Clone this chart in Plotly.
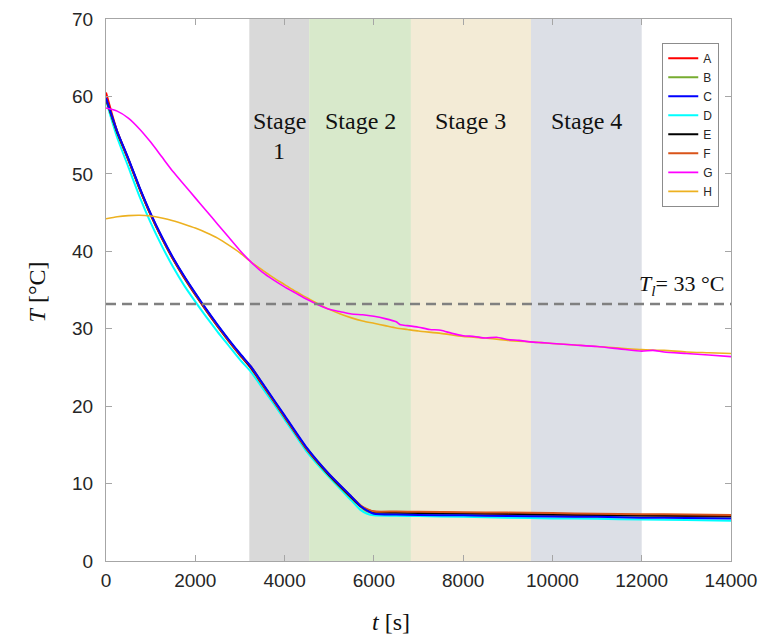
import plotly.graph_objects as go

# ---------------- data ----------------
series_names = ["A", "B", "C", "D", "E", "F", "G", "H"]
series_colors = ["#ff0000", "#77ac30", "#0000ff", "#00ffff", "#000000", "#d95319", "#ff00ff", "#edb120"]

# lower group (A-F) time grid [s]
t_low = [0, 125, 250, 500, 750, 1000, 1250, 1500, 1750, 2000, 2250, 2500, 2750, 3000, 3250, 3500,
         4000, 4500, 5000, 5500, 5700, 5850, 6000, 6500, 7000, 8000, 9000, 10000, 11000, 12000,
         13000, 14000]

T_A = [60.5, 57.9, 55.5, 51.8, 48.1, 44.7, 41.7, 39.0, 36.6, 34.4, 32.3, 30.3, 28.4, 26.6, 24.9, 22.8,
       18.6, 14.4, 11.1, 8.2, 7.1, 6.6, 6.4, 6.3, 6.3, 6.2, 6.1, 6.0, 5.95, 5.9,
       5.85, 5.8]
T_B = [59.6, 57.4, 55.3, 51.8, 48.1, 44.7, 41.7, 39.0, 36.6, 34.4, 32.3, 30.3, 28.4, 26.6, 24.9, 22.8,
       18.6, 14.4, 11.0, 8.1, 7.0, 6.4, 6.2, 6.1, 6.05, 5.95, 5.85, 5.8, 5.75, 5.7,
       5.65, 5.6]
T_C = [59.8, 57.6, 55.5, 52.0, 48.3, 44.9, 41.9, 39.2, 36.8, 34.6, 32.5, 30.5, 28.6, 26.8, 25.1, 23.0,
       18.8, 14.6, 11.2, 8.3, 7.1, 6.5, 6.1, 6.0, 5.95, 5.9, 5.8, 5.75, 5.7, 5.6,
       5.55, 5.5]
T_D = [59.5, 57.0, 54.7, 50.9, 47.1, 43.7, 40.7, 38.0, 35.6, 33.5, 31.5, 29.6, 27.8, 26.0, 24.4, 22.4,
       18.3, 14.1, 10.8, 7.8, 6.6, 6.1, 5.9, 5.85, 5.8, 5.7, 5.6, 5.5, 5.45, 5.35,
       5.3, 5.2]
T_E = [59.7, 57.5, 55.4, 51.9, 48.2, 44.8, 41.8, 39.1, 36.7, 34.5, 32.4, 30.4, 28.5, 26.7, 25.0, 22.9,
       18.7, 14.5, 11.1, 8.2, 7.1, 6.6, 6.3, 6.25, 6.2, 6.15, 6.1, 6.0, 5.95, 5.9,
       5.85, 5.85]
T_F = [59.8, 57.6, 55.5, 51.9, 48.2, 44.8, 41.8, 39.1, 36.7, 34.5, 32.4, 30.4, 28.5, 26.7, 25.1, 22.9,
       18.7, 14.5, 11.2, 8.3, 7.2, 6.7, 6.4, 6.4, 6.35, 6.3, 6.25, 6.2, 6.1, 6.05,
       6.0, 5.95]

# G (magenta)
t_G = [0, 250, 500, 750, 1000, 1250, 1500, 1750, 2000, 2250, 2500, 2750, 3000, 3250, 3500, 3750,
       4000, 4250, 4500, 4750, 5000, 5250, 5500, 5750, 6000, 6250, 6500, 6600, 6750, 7000, 7250,
       7500, 7750, 8000, 8250, 8500, 8750, 9000, 9250, 9500, 9750, 10000, 10500, 11000, 11500,
       12000, 12250, 12500, 13000, 13500, 14000]
T_G = [58.5, 58.1, 57.2, 55.8, 54.1, 52.2, 50.3, 48.6, 46.9, 45.2, 43.5, 41.8, 40.1, 38.6, 37.3, 36.3,
       35.4, 34.6, 33.8, 33.1, 32.5, 32.2, 31.9, 31.8, 31.6, 31.3, 30.9, 30.5, 30.4, 30.2, 29.9,
       29.8, 29.4, 29.1, 29.0, 28.8, 28.9, 28.6, 28.5, 28.3, 28.2, 28.1, 27.9, 27.7, 27.4,
       27.1, 27.2, 27.0, 26.8, 26.6, 26.4]

# H (orange)
t_H = [0, 250, 500, 750, 1000, 1250, 1500, 1750, 2000, 2250, 2500, 2750, 3000, 3250, 3500, 3750,
       4000, 4250, 4500, 4750, 5000, 5250, 5500, 5750, 6000, 6250, 6500, 6750, 7000, 7500, 8000,
       8500, 9000, 9500, 10000, 10500, 11000, 11500, 12000, 12500, 13000, 13500, 14000]
T_H = [44.2, 44.45, 44.6, 44.65, 44.55, 44.3, 43.95, 43.5, 43.0, 42.4, 41.7, 40.8, 39.8, 38.6, 37.6, 36.6,
       35.7, 34.8, 34.0, 33.2, 32.5, 31.9, 31.4, 31.0, 30.7, 30.4, 30.1, 29.9, 29.7, 29.4, 29.0,
       28.8, 28.5, 28.3, 28.1, 27.9, 27.7, 27.5, 27.3, 27.2, 27.0, 26.9, 26.8]

# stages
stage_edges = [3210, 4550, 6830, 9520, 12000]
stage_colors = ["#d9d9d9", "#d8e9cb", "#f3ebd6", "#dcdfe6"]
stage_labels = [["Stage", "1"], ["Stage 2"], ["Stage 3"], ["Stage 4"]]

T_liquidus = 33.2
T_liquidus_label = "<i>T</i><sub><i>l</i></sub>= 33 °C"

x_ticks = [0, 2000, 4000, 6000, 8000, 10000, 12000, 14000]
x_ticktext = ["0", "2000", "4000", "6000", "8000", "10000", "12000", "14000"]
y_ticks = [0, 10, 20, 30, 40, 50, 60, 70]

# ---------------- figure ----------------
fig = go.Figure()

series_x = [t_low] * 6 + [t_G, t_H]
series_y = [T_A, T_B, T_C, T_D, T_E, T_F, T_G, T_H]
widths = [2, 2, 2, 2, 2, 2, 1.6, 1.6]

traces = []
for i in range(8):
    traces.append(go.Scatter(
        x=series_x[i], y=series_y[i], mode="lines", name=series_names[i],
        line=dict(color=series_colors[i], width=widths[i], shape="spline", smoothing=0.6),
        legendrank=i + 1,
    ))
draw_order = [3, 1, 0, 4, 5, 2, 7, 6]
for i in draw_order:
    fig.add_trace(traces[i])

serif = "Liberation Serif, Times New Roman, serif"
sans = "Liberation Sans, Arial, sans-serif"
txt_font = dict(family=serif, size=24, color="#111111")

for k in range(4):
    fig.add_shape(type="rect", xref="x", yref="paper",
                  x0=stage_edges[k], x1=stage_edges[k + 1], y0=0, y1=1,
                  fillcolor=stage_colors[k], line=dict(width=0), layer="below")
    xc = (stage_edges[k] + stage_edges[k + 1]) / 2
    lines = stage_labels[k]
    fig.add_annotation(x=xc, y=56.8, xref="x", yref="y", text=lines[0], showarrow=False,
                       xanchor="center", yanchor="middle", font=txt_font)
    if len(lines) > 1:
        fig.add_annotation(x=xc, y=53.0, xref="x", yref="y", text=lines[1], showarrow=False,
                           xanchor="center", yanchor="middle", font=txt_font)

fig.add_shape(type="line", xref="paper", yref="y", x0=0, x1=1, y0=T_liquidus, y1=T_liquidus,
              line=dict(color="#808080", width=2.5, dash="10px,6px"), layer="above")
fig.add_annotation(x=13880, y=35.6, xref="x", yref="y", text=T_liquidus_label, showarrow=False,
                   xanchor="right", yanchor="middle",
                   font=dict(family=serif, size=22, color="#111111"))

# axis titles
fig.add_annotation(x=0.456, y=-0.1125, xref="paper", yref="paper", text="<i>t</i> [s]",
                   showarrow=False, xanchor="center", yanchor="middle",
                   font=dict(family=serif, size=24, color="#111111"))
fig.add_annotation(x=-0.11, y=0.496, xref="paper", yref="paper", text="<i>T</i> [°C]",
                   showarrow=False, textangle=-90, xanchor="center", yanchor="middle",
                   font=dict(family=serif, size=24, color="#111111"))

axis_common = dict(showline=True, linecolor="#a6a6a6", linewidth=1.3, mirror="ticks",
                   ticks="inside", ticklen=6, tickcolor="#a6a6a6", tickwidth=1,
                   showgrid=False, zeroline=False, automargin=False,
                   tickfont=dict(family=sans, size=19, color="#262626"))

fig.update_xaxes(range=[0, 14000], tickvals=x_ticks, ticktext=x_ticktext,
                 ticklabelstandoff=2, **axis_common)
fig.update_yaxes(range=[0, 70], tickvals=y_ticks, ticklabelstandoff=8, **axis_common)

fig.update_layout(
    width=760, height=635,
    margin=dict(l=106, r=29, t=19, b=74, autoexpand=False),
    paper_bgcolor="white", plot_bgcolor="white",
    showlegend=True,
    legend=dict(x=0.89, y=0.956, xanchor="left", yanchor="top",
                bgcolor="white", bordercolor="#8c8c8c", borderwidth=1,
                font=dict(family=sans, size=12, color="#262626"),
                tracegroupgap=0, itemwidth=30),
)

fig.write_html("out.html")
